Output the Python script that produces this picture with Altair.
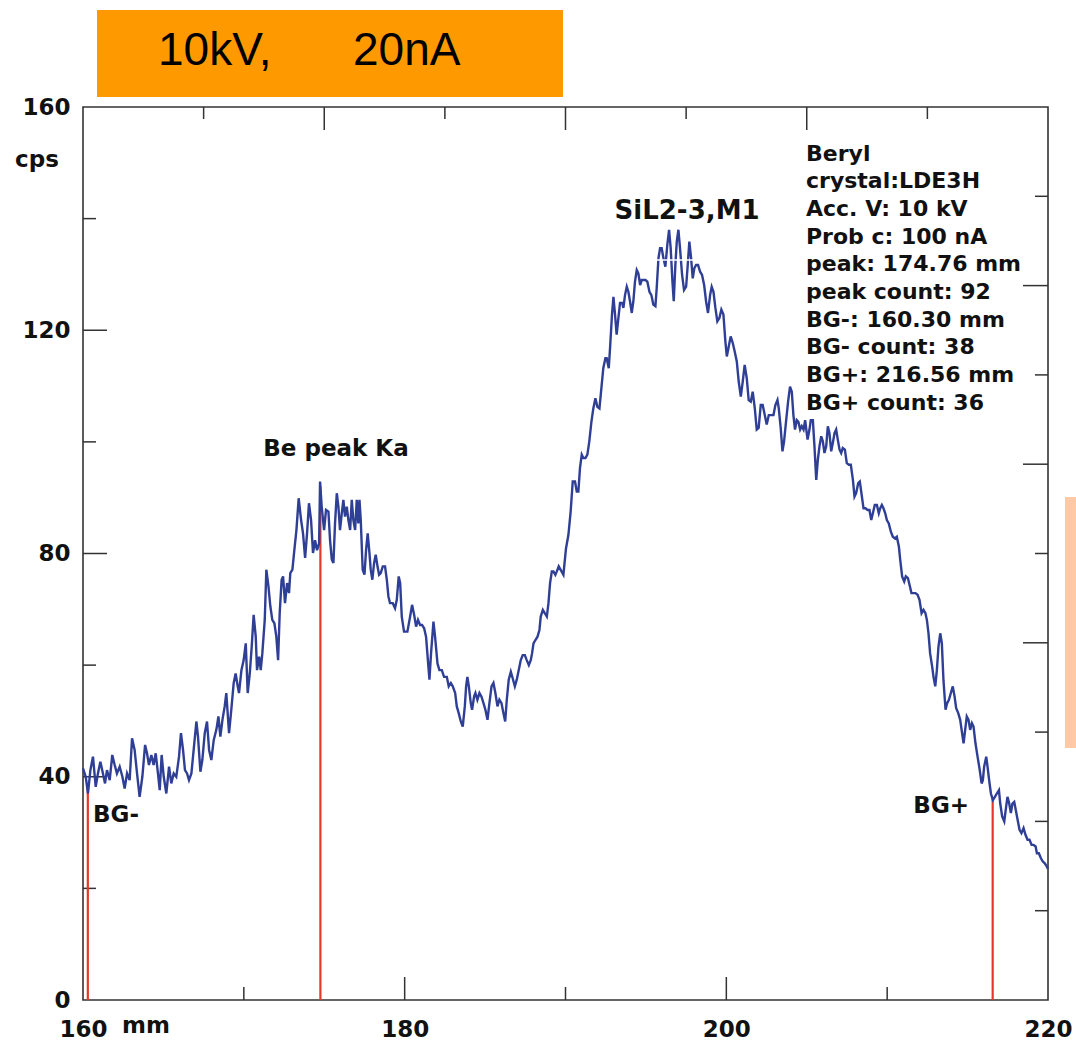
import altair as alt
import pandas as pd

# Wavelength scan of beryl: spectrometer position (mm) and count rate (cps)
scan_left = [
    (160.00, 41.5), (160.17, 40.0), (160.31, 37.0), (160.46, 41.2), (160.62, 43.6), (160.79, 38.2),
    (160.93, 40.6), (161.08, 42.7), (161.24, 40.6), (161.37, 38.8), (161.49, 41.2), (161.66, 39.4),
    (161.82, 43.9), (161.97, 42.1), (162.11, 40.6), (162.28, 41.8), (162.45, 40.0), (162.59, 37.9),
    (162.74, 40.6), (162.90, 39.4), (163.05, 46.9), (163.21, 44.8), (163.36, 40.6), (163.52, 36.4),
    (163.69, 40.0), (163.86, 45.7), (163.98, 44.2), (164.10, 42.1), (164.25, 43.9), (164.39, 42.1),
    (164.52, 44.2), (164.66, 40.6), (164.77, 37.6), (164.89, 43.9), (165.02, 40.0), (165.18, 37.0),
    (165.35, 41.8), (165.49, 38.8), (165.64, 40.6), (165.80, 40.0), (165.97, 43.6), (166.09, 47.8),
    (166.22, 44.8), (166.34, 41.2), (166.47, 40.6), (166.59, 39.4), (166.74, 40.6), (166.88, 44.8),
    (167.05, 49.9), (167.15, 47.2), (167.30, 40.9), (167.42, 43.0), (167.57, 47.8), (167.71, 49.9),
    (167.84, 44.8), (167.98, 43.0), (168.13, 46.6), (168.29, 48.4), (168.42, 50.8), (168.54, 47.2),
    (168.67, 50.2), (168.81, 52.6), (168.91, 55.0), (169.08, 47.8), (169.22, 52.0), (169.37, 56.8),
    (169.49, 58.5), (169.62, 56.2), (169.70, 55.0), (169.85, 59.1), (169.99, 60.9), (170.12, 63.9),
    (170.24, 55.0), (170.37, 58.5), (170.49, 63.3), (170.61, 69.0), (170.74, 65.1), (170.82, 59.1),
    (170.95, 61.5), (171.05, 59.1), (171.15, 62.1), (171.30, 68.1), (171.40, 77.1), (171.53, 74.1),
    (171.65, 70.5), (171.77, 68.1), (171.90, 67.5), (172.02, 65.1), (172.13, 60.9), (172.23, 69.3),
    (172.35, 75.3), (172.44, 75.9), (172.56, 71.1), (172.69, 74.7), (172.81, 72.9), (172.89, 76.5),
    (173.02, 77.1), (173.14, 80.6), (173.27, 84.2), (173.41, 89.9), (173.56, 86.0), (173.68, 83.6),
    (173.81, 79.2), (173.93, 83.6), (174.05, 89.0), (174.18, 86.0), (174.30, 80.1), (174.43, 82.4),
    (174.55, 80.6), (174.68, 81.8),
]

scan_valley = [
    (174.74, 92.9), (174.84, 88.4), (174.99, 84.2), (175.11, 87.8), (175.26, 87.5), (175.36, 82.4),
    (175.47, 78.9), (175.57, 78.3), (175.67, 85.4), (175.78, 90.8), (175.88, 88.4), (175.98, 84.2),
    (176.09, 87.2), (176.19, 89.6), (176.29, 86.6), (176.40, 88.4), (176.50, 86.0), (176.61, 84.2),
    (176.71, 89.6), (176.81, 86.0), (176.92, 84.2), (177.02, 89.6), (177.12, 85.4), (177.19, 89.6),
    (177.27, 86.0), (177.39, 77.1), (177.50, 76.2), (177.60, 80.6), (177.70, 83.6), (177.81, 80.1),
    (177.89, 77.1), (177.99, 75.3), (178.10, 78.3), (178.20, 79.8), (178.31, 77.7), (178.41, 76.2),
    (178.51, 76.5), (178.64, 77.7), (178.78, 77.7), (178.89, 75.3), (178.99, 72.3), (179.09, 71.1),
    (179.26, 71.1), (179.40, 70.2), (179.51, 71.7), (179.63, 75.9), (179.72, 74.7), (179.82, 68.7),
    (179.96, 66.0), (180.17, 66.0), (180.34, 68.7), (180.46, 70.8), (180.59, 69.0), (180.71, 66.9),
    (180.83, 68.1), (180.96, 67.2), (181.08, 67.2), (181.21, 66.6), (181.33, 65.1), (181.46, 60.3),
    (181.54, 57.4), (181.64, 62.1), (181.79, 67.8), (181.89, 65.1), (182.04, 60.3), (182.16, 59.1),
    (182.31, 59.1), (182.45, 57.9), (182.62, 57.9), (182.74, 56.2), (182.87, 56.8), (182.99, 56.2),
    (183.14, 55.0), (183.24, 52.6), (183.36, 51.4), (183.49, 49.9), (183.61, 49.0), (183.74, 52.6),
    (183.82, 56.2), (183.90, 57.9), (183.99, 56.2), (184.11, 53.2), (184.19, 52.0), (184.32, 54.4),
    (184.40, 55.0), (184.52, 53.8), (184.65, 55.0), (184.77, 54.4), (184.90, 53.2), (185.02, 52.0),
    (185.15, 50.2), (185.27, 53.2), (185.40, 56.2), (185.52, 56.8), (185.64, 55.0), (185.77, 52.6),
    (185.89, 53.8), (186.02, 53.2), (186.14, 51.4), (186.25, 49.9), (186.35, 53.8), (186.47, 57.4),
    (186.60, 58.8), (186.72, 57.6), (186.85, 56.2), (186.97, 57.4), (187.09, 59.1), (187.22, 60.9),
    (187.34, 61.8), (187.47, 61.8), (187.59, 60.9), (187.72, 60.0), (187.84, 60.9), (187.92, 62.1),
    (188.01, 63.9), (188.13, 64.5), (188.26, 65.1), (188.38, 66.3), (188.46, 68.7), (188.59, 69.9),
    (188.71, 69.3), (188.84, 68.7), (188.94, 71.1), (189.04, 74.7), (189.15, 76.8), (189.25, 76.8),
    (189.37, 76.2), (189.46, 76.8), (189.58, 77.7),
]

scan_si_peak = [
    (189.87, 76.2), (190.03, 80.9), (190.18, 83.3), (190.32, 87.5), (190.45, 92.9), (190.59, 92.9),
    (190.70, 91.1), (190.80, 91.1), (190.90, 95.3), (191.01, 97.7), (191.11, 97.1), (191.24, 97.1),
    (191.36, 97.7), (191.48, 100.1), (191.61, 103.6), (191.73, 106.0), (191.86, 107.8), (191.98, 106.3),
    (192.11, 106.0), (192.23, 109.6), (192.35, 113.2), (192.48, 115.0), (192.56, 115.0), (192.69, 113.2),
    (192.77, 116.8), (192.89, 122.8), (192.98, 126.0), (193.08, 122.8), (193.18, 119.2), (193.29, 122.2),
    (193.39, 124.9), (193.52, 124.9), (193.60, 124.0), (193.70, 126.3), (193.81, 127.8), (193.91, 126.9),
    (194.01, 125.2), (194.12, 123.1), (194.22, 125.2), (194.32, 128.7), (194.43, 130.8), (194.53, 130.2),
    (194.64, 128.1), (194.74, 129.0), (194.84, 129.0), (194.97, 129.0), (195.09, 128.7), (195.22, 126.9),
    (195.34, 126.3), (195.46, 124.6), (195.59, 124.3), (195.67, 127.5), (195.78, 132.9), (195.88, 134.7),
    (195.98, 134.7), (196.09, 132.9), (196.21, 131.4), (196.33, 135.3), (196.44, 138.0), (196.54, 134.7),
    (196.65, 128.7), (196.73, 125.2), (196.83, 131.7), (196.92, 135.9), (197.02, 138.0), (197.12, 134.7),
    (197.25, 129.9), (197.37, 127.2), (197.50, 127.8), (197.60, 131.7), (197.70, 135.9), (197.81, 132.9),
    (197.91, 129.3), (198.01, 131.1), (198.12, 131.7), (198.24, 131.7), (198.37, 130.5), (198.49, 129.9),
    (198.62, 128.1), (198.74, 125.2), (198.86, 123.1), (198.99, 126.3), (199.09, 127.8), (199.20, 126.9),
    (199.32, 124.0), (199.44, 121.6), (199.57, 122.2), (199.69, 123.7), (199.82, 122.8), (199.94, 118.0),
    (200.03, 115.3), (200.15, 117.1), (200.27, 118.9), (200.40, 117.7), (200.52, 116.2), (200.65, 114.4),
    (200.77, 110.8), (200.90, 108.1), (201.02, 110.8), (201.14, 113.8), (201.27, 111.4), (201.39, 107.5),
    (201.52, 107.2), (201.64, 109.0), (201.77, 106.0), (201.89, 102.2), (202.01, 102.5), (202.14, 106.6),
    (202.26, 106.6), (202.39, 104.8), (202.51, 103.1), (202.64, 104.8), (202.76, 104.8), (202.93, 104.8),
    (203.05, 106.6), (203.18, 107.5), (203.26, 106.0), (203.38, 102.5), (203.49, 98.3), (203.59, 100.1),
    (203.71, 103.6), (203.84, 107.2), (203.96, 109.9), (204.07, 109.0), (204.17, 104.8), (204.27, 102.2),
    (204.38, 103.9), (204.48, 103.6),
]

scan_tail = [
    (204.59, 102.2), (204.69, 102.8), (204.80, 102.2), (204.90, 103.9), (205.05, 100.4), (205.17, 102.2),
    (205.25, 103.9), (205.38, 103.9), (205.48, 99.2), (205.59, 93.2), (205.69, 96.8), (205.79, 99.2),
    (205.90, 101.0), (206.00, 100.1), (206.10, 98.0), (206.21, 99.2), (206.31, 102.8), (206.41, 101.6),
    (206.52, 98.3), (206.62, 99.8), (206.73, 101.6), (206.83, 102.2), (206.93, 100.4), (207.04, 98.6),
    (207.14, 98.0), (207.24, 98.9), (207.37, 98.6), (207.49, 96.2), (207.62, 95.9), (207.74, 95.9),
    (207.87, 93.2), (207.97, 90.2), (208.07, 90.8), (208.20, 92.6), (208.30, 92.9), (208.40, 90.8),
    (208.53, 88.1), (208.65, 88.1), (208.78, 87.8), (208.90, 87.8), (209.01, 86.0), (209.11, 87.2),
    (209.23, 88.7), (209.36, 88.7), (209.48, 87.2), (209.57, 88.1), (209.67, 88.7), (209.77, 88.1),
    (209.88, 87.2), (209.98, 86.0), (210.10, 85.4), (210.23, 83.9), (210.35, 83.0), (210.48, 82.7),
    (210.60, 83.0), (210.73, 81.2), (210.81, 78.9), (210.93, 75.9), (211.06, 75.0), (211.16, 75.9),
    (211.29, 75.6), (211.39, 74.4), (211.51, 72.9), (211.64, 72.9), (211.76, 72.9), (211.89, 72.6),
    (212.01, 71.7), (212.14, 69.3), (212.26, 69.9), (212.38, 69.3), (212.47, 68.1), (212.57, 65.7),
    (212.67, 62.1), (212.80, 59.7), (212.88, 57.9), (212.99, 56.2), (213.09, 59.1), (213.19, 63.3),
    (213.30, 65.7), (213.40, 63.9), (213.50, 57.3), (213.63, 52.0), (213.73, 53.2), (213.84, 53.8),
    (213.96, 55.0), (214.08, 56.2), (214.19, 54.4), (214.29, 52.3), (214.42, 51.4), (214.54, 50.2),
    (214.66, 47.8), (214.75, 46.0), (214.85, 48.4), (214.95, 50.8), (215.06, 50.2), (215.16, 48.4),
    (215.27, 49.6), (215.37, 49.0), (215.49, 46.0), (215.62, 43.6), (215.74, 41.5), (215.87, 38.8),
    (215.95, 39.4), (216.03, 41.8), (216.16, 43.6), (216.24, 41.8), (216.34, 39.4), (216.45, 37.0),
    (216.57, 35.8), (216.70, 36.4), (216.82, 37.0), (216.95, 37.6), (217.03, 35.2), (217.15, 32.9),
    (217.28, 32.0), (217.40, 34.7), (217.48, 36.4), (217.59, 35.2), (217.69, 33.5), (217.79, 35.2),
    (217.90, 35.5), (218.00, 34.0), (218.11, 32.3), (218.23, 30.5), (218.35, 29.9), (218.48, 30.8),
    (218.60, 29.6), (218.73, 28.7), (218.85, 28.7), (218.98, 27.8), (219.10, 27.8), (219.23, 27.5),
    (219.31, 26.3), (219.43, 26.3), (219.56, 25.4), (219.68, 24.8), (219.80, 24.5), (219.93, 23.9),
    (220.00, 23.5),
]

# Peak and background measurement positions with their counts
marker_pos = [160.30, 174.76, 216.56]
marker_cps = [38, 92, 36]

# Short white streak across the top of the Si peak
streak_pos = [195.67, 197.95]
streak_cps = 132.6

# Axis labels and frame ticks
x_labels = [160, 180, 200, 220]
y_labels = [0, 40, 80, 120, 160]
left_long = [40, 80, 120]
left_short = [20, 60, 100, 140]
bottom_long = [180, 200]
bottom_short = [170, 190, 210]
top_long = [175, 190, 205]
top_short = [167.5, 182.5, 197.5, 212.5]
right_long = [64, 96, 128]
right_short = [16, 32, 48, 80, 112, 144]

# In-plot annotations
note_text = ["Be peak Ka", "SiL2-3,M1", "BG+"]
note_pos = [175.73, 197.56, 213.36]
note_cps = [97.5, 140.0, 33.5]
note_size = [23, 26, 23]
bg_minus_text = "BG-"
bg_minus_pos = 160.62
bg_minus_cps = 31.9

info_lines = [
    "Beryl",
    "crystal:LDE3H",
    "Acc. V: 10 kV",
    "Prob c: 100 nA",
    "peak: 174.76 mm",
    "peak count: 92",
    "BG-: 160.30 mm",
    "BG- count: 38",
    "BG+: 216.56 mm",
    "BG+ count: 36",
]

banner_left = "10kV,"
banner_right = "20nA"

W, H = 965, 893
FONT = "DejaVu Sans"
BLUE = "#2f3f96"
RED = "#e8372a"
INK = "#333333"

xs = alt.Scale(domain=[160, 220], nice=False, zero=False)
ys = alt.Scale(domain=[0, 160], nice=False, zero=False)

x_axis = alt.Axis(values=x_labels, labelFlush=False, ticks=False, tickSize=0, domain=False,
                  grid=False, labelFont=FONT, labelFontWeight="bold", labelFontSize=23,
                  labelColor="#111111", labelPadding=18, format="d", labelOverlap=False)
y_axis = alt.Axis(values=y_labels, ticks=False, tickSize=0, domain=False, grid=False,
                  labelFont=FONT, labelFontWeight="bold", labelFontSize=23,
                  labelColor="#111111", labelPadding=13, format="d", labelOverlap=False)


def X(field):
    return alt.X(field, scale=xs, axis=x_axis, title=None)


def Y(field):
    return alt.Y(field, scale=ys, axis=y_axis, title=None)


scan = pd.DataFrame(scan_left + scan_valley + scan_si_peak + scan_tail, columns=["mm", "cps"])
markers = pd.DataFrame({"mm": marker_pos, "cps": marker_cps, "base": [0] * len(marker_pos)})
streak = pd.DataFrame({"mm": [streak_pos[0]], "mm2": [streak_pos[1]], "cps": [streak_cps]})
notes = pd.DataFrame({"t": note_text, "mm": note_pos, "cps": note_cps, "fs": note_size})
bgm = pd.DataFrame({"t": [bg_minus_text], "mm": [bg_minus_pos], "cps": [bg_minus_cps]})


def tick_layer(vals, orient, length):
    df = pd.DataFrame({"v": vals})
    base = alt.Chart(df).mark_rule(color=INK, strokeWidth=1.5)
    if orient == "left":
        return base.encode(y=Y("v:Q"), x=alt.value(0), x2=alt.value(length))
    if orient == "right":
        return base.encode(y=Y("v:Q"), x=alt.value(W), x2=alt.value(W - length))
    if orient == "top":
        return base.encode(x=X("v:Q"), y=alt.value(0), y2=alt.value(length))
    return base.encode(x=X("v:Q"), y=alt.value(H), y2=alt.value(H - length))


ticks = [
    tick_layer(left_long, "left", 24), tick_layer(left_short, "left", 13),
    tick_layer(right_long, "right", 25), tick_layer(right_short, "right", 13),
    tick_layer(top_long, "top", 23), tick_layer(top_short, "top", 12),
    tick_layer(bottom_long, "bottom", 23), tick_layer(bottom_short, "bottom", 13),
]

marker_rules = alt.Chart(markers).mark_rule(color=RED, strokeWidth=2.2).encode(
    x=X("mm:Q"), y=Y("cps:Q"), y2="base:Q",
)

curve = alt.Chart(scan).mark_line(color=BLUE, strokeWidth=2.4, strokeJoin="miter").encode(
    x=X("mm:Q"), y=Y("cps:Q"), order="mm:Q",
)

streak_rule = alt.Chart(streak).mark_rule(color="white", strokeWidth=1.5).encode(
    x=X("mm:Q"), x2="mm2:Q", y=Y("cps:Q"),
)

note_marks = alt.Chart(notes).mark_text(
    font=FONT, fontWeight="bold", color="#111111", align="center", baseline="alphabetic"
).encode(
    x=X("mm:Q"), y=Y("cps:Q"), text="t:N",
    size=alt.Size("fs:Q", scale=None, legend=None),
)

bgm_mark = alt.Chart(bgm).mark_text(
    font=FONT, fontWeight="bold", fontSize=23, color="#111111", align="left", baseline="alphabetic"
).encode(x=X("mm:Q"), y=Y("cps:Q"), text="t:N")

one = pd.DataFrame({"k": [0]})

info = alt.Chart(one).mark_text(
    font=FONT, fontWeight="bold", fontSize=22, color="#111111", align="left",
    baseline="top", lineHeight=27.7,
).encode(x=alt.value(723), y=alt.value(36.5), text=alt.value(info_lines))

unit_x = alt.Chart(one).mark_text(
    font=FONT, fontWeight="bold", fontSize=23, color="#111111", align="center", baseline="alphabetic"
).encode(x=alt.value(63), y=alt.value(926), text=alt.value("mm"))

unit_y = alt.Chart(one).mark_text(
    font=FONT, fontWeight="bold", fontSize=23, color="#111111", align="center", baseline="alphabetic"
).encode(x=alt.value(-46), y=alt.value(60), text=alt.value("cps"))

banner = alt.Chart(one).mark_rect(color="#ff9900").encode(
    x=alt.value(14), x2=alt.value(480), y=alt.value(-97), y2=alt.value(-10)
)
banner_t1 = alt.Chart(one).mark_text(
    font="Liberation Sans", fontSize=46, color="#000000", align="left", baseline="alphabetic"
).encode(x=alt.value(75), y=alt.value(-42), text=alt.value(banner_left))
banner_t2 = alt.Chart(one).mark_text(
    font="Liberation Sans", fontSize=46, color="#000000", align="left", baseline="alphabetic"
).encode(x=alt.value(270), y=alt.value(-42), text=alt.value(banner_right))

side_patch = alt.Chart(one).mark_rect(color="#ffc9a5").encode(
    x=alt.value(982), x2=alt.value(993), y=alt.value(390), y2=alt.value(641)
)

chart = alt.layer(
    *ticks, marker_rules, curve, streak_rule, note_marks, bgm_mark, info,
    unit_x, unit_y, banner, banner_t1, banner_t2, side_patch,
).properties(
    width=W,
    height=H,
    padding={"left": 83, "top": 107, "right": 28, "bottom": 41},
    autosize=alt.AutoSizeParams(type="none"),
    background="white",
).configure_view(
    stroke=INK, strokeWidth=1.6
)

chart.save("out.html", embed_options={"renderer": "svg", "actions": False})
